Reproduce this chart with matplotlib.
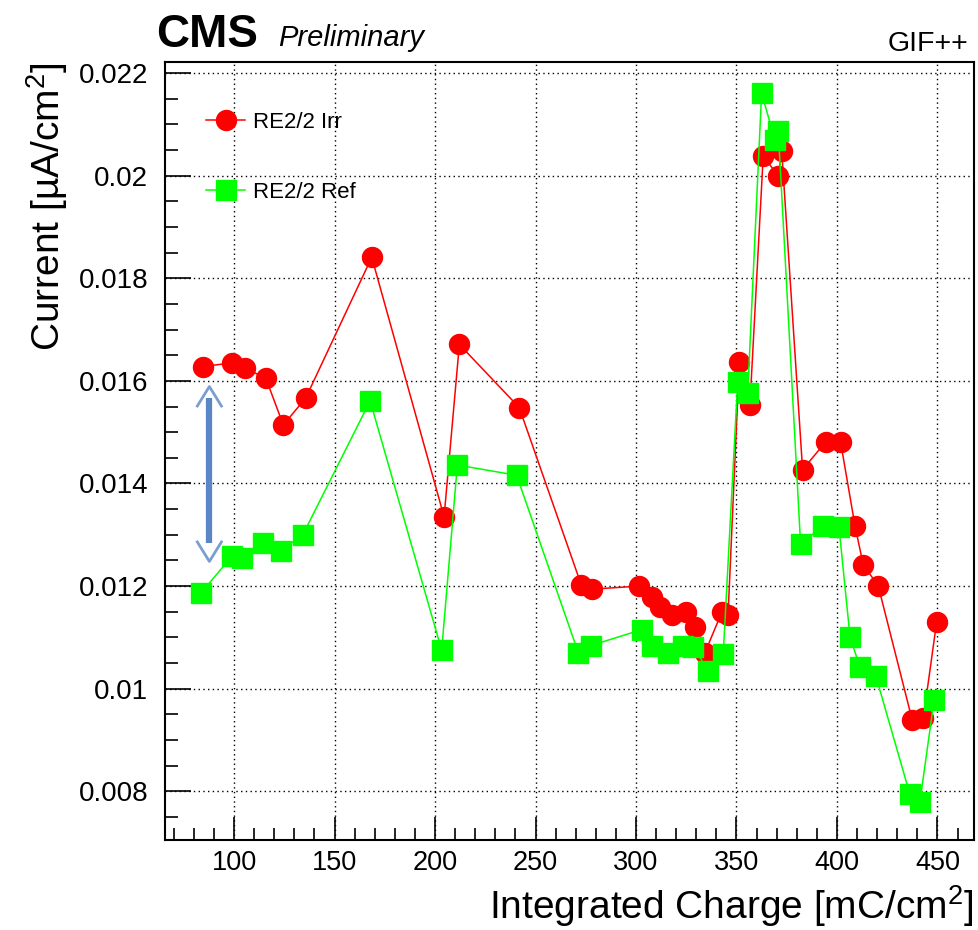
import numpy as np
import matplotlib
matplotlib.use('Agg')
import matplotlib.pyplot as plt
from matplotlib.ticker import MultipleLocator, FuncFormatter

plt.rcParams['font.family'] = ['Liberation Sans', 'DejaVu Sans']
plt.rcParams['mathtext.fontset'] = 'custom'
plt.rcParams['mathtext.rm'] = 'Liberation Sans'

# irradiated chamber: integrated charge [mC/cm2] and current [uA/cm2]
irr_charge = [84.4, 98.9, 105.5, 115.8, 124.5, 135.7, 168.5, 204.5, 212.1,
              241.9, 272.8, 278.3, 301.7, 307.8, 312.0, 317.8, 324.9, 329.4,
              334.3, 342.8, 345.8, 351.4, 356.7, 363.3, 370.8, 372.5, 382.9,
              394.4, 401.8, 409.0, 413.1, 420.5, 437.5, 443.0, 449.6]
irr_current = [0.01628, 0.01635, 0.01625, 0.01605, 0.01514, 0.01567, 0.01841,
               0.01335, 0.01671, 0.01548, 0.01202, 0.01194, 0.01200, 0.01178,
               0.01159, 0.01143, 0.01149, 0.01120, 0.01070, 0.01150, 0.01143,
               0.01636, 0.01553, 0.02038, 0.02000, 0.02049, 0.01427, 0.01481,
               0.01481, 0.01317, 0.01241, 0.01201, 0.00938, 0.00943, 0.01130]

# reference chamber
ref_charge = [83.4, 98.9, 104.1, 114.6, 123.2, 134.2, 167.7, 203.3, 211.1,
              240.6, 271.3, 277.5, 302.8, 307.8, 316.1, 323.6, 328.6, 336.0,
              343.4, 350.6, 355.6, 362.5, 369.1, 370.8, 381.9, 393.2, 401.0,
              406.5, 411.4, 419.4, 436.3, 441.3, 448.3]
ref_current = [0.01186, 0.01258, 0.01254, 0.01283, 0.01269, 0.01300, 0.01561,
               0.01075, 0.01436, 0.01416, 0.01070, 0.01084, 0.01115, 0.01084,
               0.01070, 0.01084, 0.01082, 0.01034, 0.01067, 0.01598, 0.01576,
               0.02161, 0.02070, 0.02088, 0.01282, 0.01318, 0.01315, 0.01101,
               0.01042, 0.01024, 0.00794, 0.00780, 0.00977]

labels = ['RE2/2 Irr', 'RE2/2 Ref']

# double arrow marking the gap between the two chambers
arr_x = 87.7
arr_top, arr_bot = 0.01589, 0.01248
shaft_top, shaft_bot = 0.01567, 0.01284
head_dx, head_dy = 6.0, 0.00038

fig = plt.figure(figsize=(9.79, 9.30), dpi=100)
ax = fig.add_axes([0.1685, 0.0968, 0.8264, 0.8365])

ax.plot(irr_charge, irr_current, '-o', color='#ff0000', lw=1.1, ms=14.4,
        mec='#ff0000', label=labels[0], zorder=3)
ax.plot(ref_charge, ref_current, '-s', color='#00ff00', lw=1.1, ms=14.4,
        mec='#00ff00', label=labels[1], zorder=4)

# arrow: thick shaft plus two open chevrons
acol = '#5a86c6'
ax.plot([arr_x, arr_x], [shaft_bot, shaft_top], color=acol, lw=4.5,
        solid_capstyle='butt', zorder=2)
ax.plot([arr_x - head_dx, arr_x, arr_x + head_dx],
        [arr_top - head_dy, arr_top, arr_top - head_dy], color=acol, lw=2.0,
        alpha=0.8, zorder=2)
ax.plot([arr_x - head_dx, arr_x, arr_x + head_dx],
        [arr_bot + head_dy, arr_bot, arr_bot + head_dy], color=acol, lw=2.0,
        alpha=0.8, zorder=2)

ax.set_xlim(65.6, 468.2)
ax.set_ylim(0.00705, 0.022216)

# ROOT style axes: ticks inside, left/bottom only
ax.xaxis.set_major_locator(MultipleLocator(50))
ax.xaxis.set_minor_locator(MultipleLocator(10))
ax.yaxis.set_major_locator(MultipleLocator(0.002))
ax.yaxis.set_minor_locator(MultipleLocator(0.0005))
ax.yaxis.set_major_formatter(FuncFormatter(lambda v, p: '%g' % round(v, 4)))
ax.tick_params(axis='both', which='both', direction='in', width=1.2,
               top=False, right=False, colors='black')
ax.tick_params(axis='y', which='major', length=19, pad=12, labelsize=20)
ax.tick_params(axis='y', which='minor', length=9.5)
ax.tick_params(axis='x', which='major', length=16.5, pad=7, labelsize=19.5)
ax.tick_params(axis='x', which='minor', length=8.5)
for sp in ax.spines.values():
    sp.set_linewidth(1.5)

# dotted grid on the major ticks
ax.grid(True, which='major', color='black', lw=1.0, linestyle=(0, (1, 2.4)))
ax.set_axisbelow(True)

ax.set_xlabel('Integrated Charge [mC/cm$^{2}$]', fontsize=28, ha='right',
              x=1.0)
ax.set_ylabel('Current [µA/cm$^{2}$]', fontsize=28, ha='right', y=1.0)
ax.yaxis.set_label_coords(-0.117, 1.0)
ax.xaxis.set_label_coords(1.0, -0.055)

leg = ax.legend(loc='upper left', bbox_to_anchor=(0.051, 0.936),
                frameon=False, fontsize=16, handlelength=1.75,
                handletextpad=0.35, labelspacing=2.2, borderaxespad=0,
                borderpad=0, markerscale=1.0)

fig.text(156 / 979, 1 - 47 / 930, 'CMS', fontsize=33, fontweight='bold',
         ha='left', va='baseline')
fig.text(278 / 979, 1 - 46 / 930, 'Preliminary', fontsize=21,
         style='italic', ha='left', va='baseline')
fig.text(968 / 979, 1 - 51 / 930, 'GIF++', fontsize=20.5, ha='right',
         va='baseline')

plt.savefig('out.png', dpi=100)
